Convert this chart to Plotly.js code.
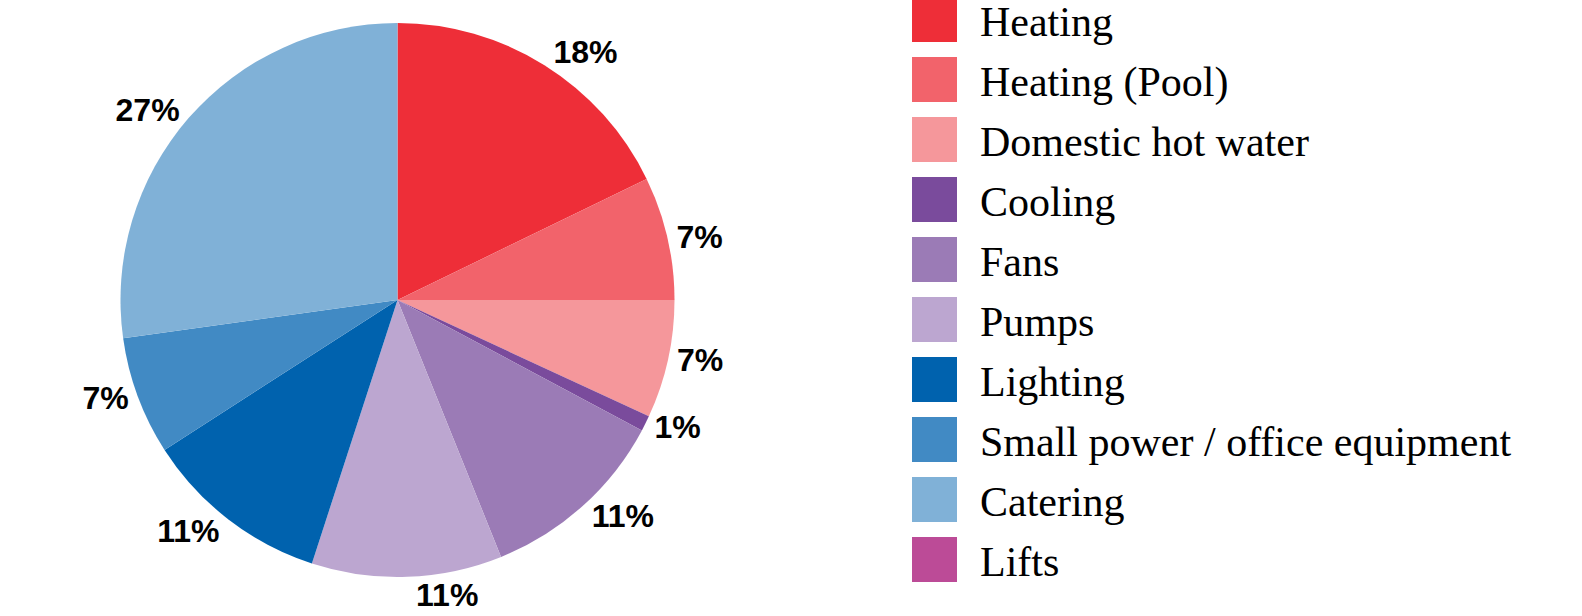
<!DOCTYPE html>
<html>
<head>
<meta charset="utf-8">
<script src="https://cdn.plot.ly/plotly-3.0.1.min.js"></script>
<style>html,body{margin:0;padding:0;background:#fff;}#chart{width:1582px;height:616px;}</style>
</head>
<body>
<div id="chart"></div>
<script>
const categories = ["Heating", "Heating (Pool)", "Domestic hot water", "Cooling", "Fans", "Pumps", "Lighting", "Small power / office equipment", "Catering", "Lifts"];
const shares = [17.8, 7.2, 6.9, 0.9, 11.1, 11.1, 10.9, 6.9, 27.2, 0];
const colors = ["#EE2E38", "#F2636B", "#F5979B", "#7A4B9C", "#9B7BB6", "#BCA6D0", "#0062AE", "#418AC4", "#80B1D7", "#BC4B97"];

const trace = {
  type: "pie",
  labels: categories,
  values: shares,
  sort: false,
  direction: "clockwise",
  rotation: 0,
  marker: {colors: colors, line: {width: 0}},
  textposition: "outside",
  texttemplate: shares.map(function (v) { return v > 0 ? "%{percent:.0%}" : ""; }),
  outsidetextfont: {family: "Liberation Sans, Arial, sans-serif", size: 32, color: "#000", weight: "bold"},
  automargin: false,
  hoverinfo: "label+percent",
  domain: {x: [0.07617, 0.42636], y: [0.0633, 0.9627]}
};

const layout = {
  width: 1582, height: 616,
  margin: {l: 0, r: 0, t: 0, b: 0},
  paper_bgcolor: "#fff",
  showlegend: true,
  legend: {
    x: 0.562, xanchor: "left", y: 1.0, yanchor: "top",
    itemwidth: 81,
    font: {family: "Liberation Serif, Times New Roman, serif", size: 42, color: "#000"},
    traceorder: "normal",
    bgcolor: "rgba(0,0,0,0)"
  }
};

Plotly.newPlot("chart", [trace], layout, {displayModeBar: false, staticPlot: true}).then(function () {
  document.querySelectorAll("path.legendpie").forEach(function (p) {
    p.setAttribute("d", "M22.5,22.5V-22.5H-22.5V22.5Z");
  });
  document.querySelectorAll(".legend .scrollbox").forEach(function (s) { s.removeAttribute("clip-path"); });
  const items = Array.from(document.querySelectorAll(".legend .traces"));
  if (!items.length) return;
  const pos = items.map(function (g) {
    const m = /translate\(\s*([-\d.eE]+)[,\s]+([-\d.eE]+)\s*\)/.exec(g.getAttribute("transform") || "");
    return m ? [parseFloat(m[1]), parseFloat(m[2])] : [0, 0];
  });
  const step = 60;
  items.forEach(function (g, i) {
    g.setAttribute("transform", "translate(" + pos[0][0] + "," + (pos[0][1] + i * step) + ")");
  });
  const sym = items[0].querySelector("path.legendpie");
  if (!sym) return;
  const r0 = sym.getBoundingClientRect();
  const dx = 912 - r0.left;
  const dy = 19.5 - (r0.top + r0.height / 2);
  items.forEach(function (g, i) {
    g.setAttribute("transform", "translate(" + (pos[0][0] + dx) + "," + (pos[0][1] + i * step + dy) + ")");
  });
});
</script>
</body>
</html>
